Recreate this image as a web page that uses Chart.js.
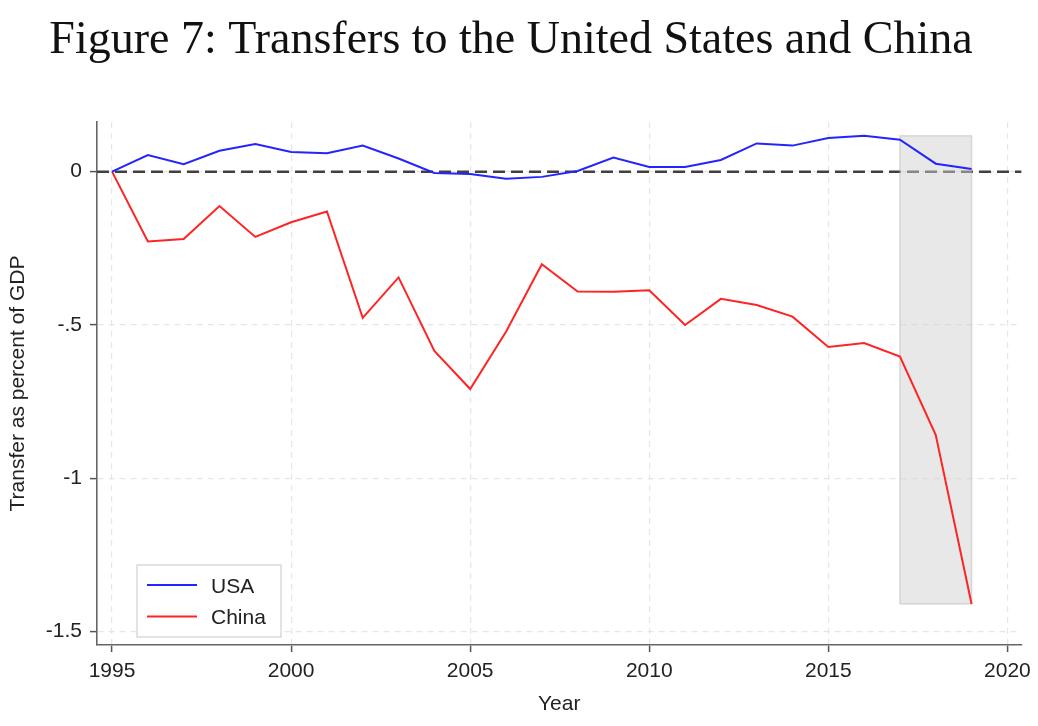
<!DOCTYPE html>
<html>
<head>
<meta charset="utf-8">
<script src="https://cdn.jsdelivr.net/npm/chart.js@4"></script>
<style>
  html, body { margin: 0; padding: 0; background: #fff; }
  canvas { display: block; }
</style>
</head>
<body>
<canvas id="chartCanvas" width="1038" height="726"></canvas>
<script>
// data
const years = [1995, 1996, 1997, 1998, 1999, 2000, 2001, 2002, 2003, 2004, 2005, 2006, 2007,
  2008, 2009, 2010, 2011, 2012, 2013, 2014, 2015, 2016, 2017, 2018, 2019];
const usa = [0, 0.054, 0.024, 0.068, 0.090, 0.064, 0.060, 0.085, 0.043, -0.004, -0.008, -0.023, -0.017,
  0.002, 0.046, 0.015, 0.015, 0.038, 0.092, 0.085, 0.110, 0.117, 0.104, 0.026, 0.009];
const china = [0, -0.228, -0.220, -0.112, -0.213, -0.165, -0.130, -0.477, -0.345, -0.585, -0.709, -0.522, -0.302,
  -0.391, -0.392, -0.387, -0.500, -0.415, -0.435, -0.473, -0.572, -0.559, -0.603, -0.859, -1.410];
const xTicks = [1995, 2000, 2005, 2010, 2015, 2020];
const yTicks = [0, -0.5, -1, -1.5];
const yTickLabels = ['0', '-.5', '-1', '-1.5'];
const shadeYears = [2017, 2019];
const shadeRange = [0.117, -1.410];

const sans = 'Helvetica, "Liberation Sans", Arial, sans-serif';
const tickFont = { family: sans, size: 21 };

function points(vals) {
  return years.map((yr, i) => ({ x: yr, y: vals[i] }));
}

// grey band and dashed zero line go under the series
const underlay = {
  id: 'underlay',
  beforeDatasetsDraw(chart) {
    const { ctx, chartArea, scales: { x, y } } = chart;
    const y0 = y.getPixelForValue(0);
    ctx.save();
    ctx.strokeStyle = '#404040';
    ctx.lineWidth = 2.5;
    ctx.setLineDash([12, 6]);
    ctx.beginPath();
    ctx.moveTo(chartArea.left, y0);
    ctx.lineTo(chartArea.right, y0);
    ctx.stroke();
    ctx.setLineDash([]);

    const x1 = x.getPixelForValue(shadeYears[0]);
    const x2 = x.getPixelForValue(shadeYears[1]);
    const t = y.getPixelForValue(shadeRange[0]);
    const b = y.getPixelForValue(shadeRange[1]);
    ctx.fillStyle = 'rgba(208,208,208,0.49)';
    ctx.fillRect(x1, t, x2 - x1, b - t);
    ctx.strokeStyle = 'rgba(180,180,180,0.45)';
    ctx.lineWidth = 1.5;
    ctx.strokeRect(x1, t, x2 - x1, b - t);
    ctx.restore();
  }
};

// legend box inside the plot, lower left
const boxLegend = {
  id: 'boxLegend',
  afterDraw(chart) {
    const { ctx } = chart;
    const bx = 137, by = 565, bw = 144, bh = 72;
    ctx.save();
    ctx.fillStyle = '#fff';
    ctx.fillRect(bx, by, bw, bh);
    ctx.strokeStyle = '#d0d0d0';
    ctx.lineWidth = 1.2;
    ctx.strokeRect(bx, by, bw, bh);
    ctx.font = '21px ' + sans;
    ctx.textBaseline = 'middle';
    chart.data.datasets.forEach((ds, i) => {
      const ly = by + 20 + i * 31.5;
      ctx.strokeStyle = ds.borderColor;
      ctx.lineWidth = 1.8;
      ctx.beginPath();
      ctx.moveTo(bx + 10, ly);
      ctx.lineTo(bx + 60, ly);
      ctx.stroke();
      ctx.fillStyle = '#222';
      ctx.fillText(ds.label, bx + 74, ly + 2);
    });
    ctx.restore();
  }
};

const ctx = document.getElementById('chartCanvas').getContext('2d');
new Chart(ctx, {
  type: 'line',
  data: {
    datasets: [
      { label: 'USA', data: points(usa), borderColor: '#2424ff', borderWidth: 2, pointRadius: 0, tension: 0 },
      { label: 'China', data: points(china), borderColor: '#ff2424', borderWidth: 2, pointRadius: 0, tension: 0 }
    ]
  },
  options: {
    responsive: false,
    animation: false,
    layout: { padding: { left: 0, right: 16, top: 0, bottom: 0 } },
    plugins: {
      legend: { display: false },
      tooltip: { enabled: false },
      title: {
        display: true,
        text: 'Figure 7: Transfers to the United States and China',
        color: '#111',
        font: { family: '"Liberation Serif", "Times New Roman", serif', size: 46, weight: 'normal', lineHeight: 1.2 },
        padding: { top: 13, bottom: 53.8 }
      }
    },
    scales: {
      x: {
        type: 'linear',
        min: 1994.58,
        max: 2020.39,
        afterBuildTicks: a => { a.ticks = xTicks.map(v => ({ value: v })); },
        afterFit: s => { s.height = 81; },
        ticks: { callback: v => String(v), font: tickFont, color: '#222', padding: 7, maxRotation: 0, autoSkip: false },
        grid: { color: '#e6e6e6', lineWidth: 1.2, tickLength: 7, tickColor: '#555', tickWidth: 1.5 },
        border: { color: '#666', width: 1.6, dash: [6, 5] },
        title: { display: true, text: 'Year', font: tickFont, color: '#222', padding: { top: 0, bottom: 9 } }
      },
      y: {
        min: -1.544,
        max: 0.162,
        afterBuildTicks: a => { a.ticks = yTicks.map(v => ({ value: v })); },
        afterFit: s => { s.width = 97; },
        ticks: {
          callback: v => yTickLabels[yTicks.indexOf(v)] ?? '',
          font: tickFont, color: '#222', padding: 8, autoSkip: false
        },
        grid: { color: '#e6e6e6', lineWidth: 1.2, tickLength: 7, tickColor: '#555', tickWidth: 1.5 },
        border: { color: '#666', width: 1.6, dash: [6, 5] },
        title: { display: true, text: 'Transfer as percent of GDP', font: tickFont, color: '#222', padding: { top: 6, bottom: 0 } }
      }
    }
  },
  plugins: [underlay, boxLegend]
});
</script>
</body>
</html>
